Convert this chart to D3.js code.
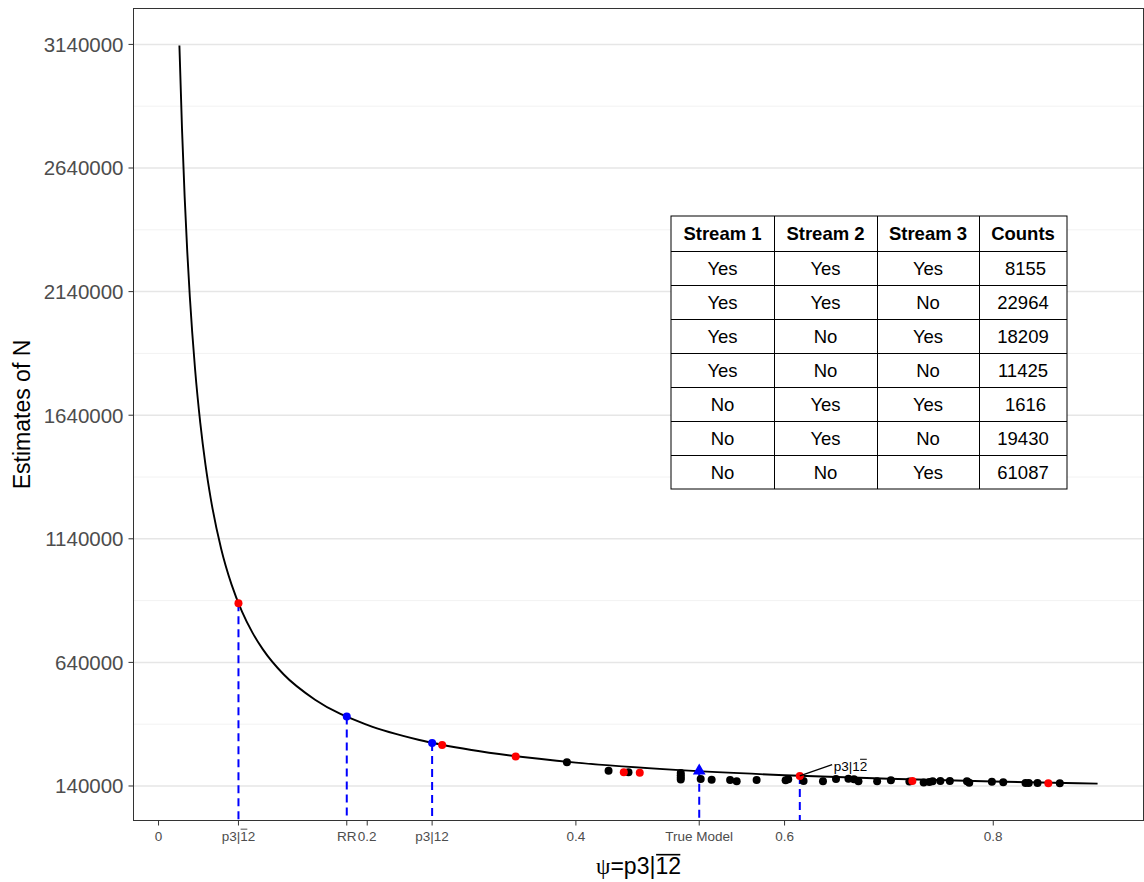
<!DOCTYPE html>
<html>
<head>
<meta charset="utf-8">
<script src="https://cdn.jsdelivr.net/npm/d3@7"></script>
<style>
  body { margin: 0; background: #ffffff; }
  text { font-family: "Liberation Sans", Arial, Helvetica, sans-serif; }
</style>
</head>
<body>
<svg id="chart" width="1144" height="882"></svg>
<script>
// Estimated population size N as a function of psi = P(stream 3 | not in streams 1, 2)
const curvePsi = [0.02, 0.0225, 0.025, 0.0275, 0.03, 0.035, 0.04, 0.045, 0.05, 0.06, 0.07, 0.08, 0.09,
                  0.1, 0.12, 0.15, 0.2, 0.25, 0.3, 0.4, 0.5, 0.6, 0.7, 0.8, 0.9];
const curveN   = [3136000, 2796800, 2525300, 2303100, 2118000, 1827100, 1609000, 1439300, 1303500,
                  1099900, 954500, 845400, 760500, 692700, 590900, 489000, 387200, 326100, 285400,
                  234500, 204000, 183600, 169100, 158200, 149700];

// Model estimates (black)
const blackPsi = [0.3914, 0.4313, 0.4504, 0.5005, 0.5005, 0.5005, 0.5005, 0.5196, 0.5301, 0.5478,
                  0.5541, 0.5732, 0.6010, 0.6035, 0.6182, 0.6368, 0.6493, 0.6612, 0.6665, 0.6708,
                  0.6887, 0.7019, 0.7196, 0.7333, 0.7388, 0.7419, 0.7493, 0.7584, 0.7748, 0.7770,
                  0.7987, 0.8096, 0.8309, 0.8340, 0.8424, 0.8638];
const blackN   = [235800, 201400, 195800, 192600, 183700, 174800, 165900, 168300, 165500, 164300,
                  159000, 164300, 163000, 167500, 160200, 159400, 168300, 169500, 167100, 159000,
                  159400, 163400, 158200, 154200, 156200, 159000, 160200, 160200, 159400, 153300,
                  157000, 155000, 152100, 152100, 152100, 151300];

// Highlighted estimates (red)
const redPsi = [0.0766, 0.2718, 0.3423, 0.4459, 0.4612, 0.6146, 0.7225, 0.8528];
const redN   = [879300, 305500, 259000, 195800, 193800, 180500, 160200, 150900];

// Reference estimates (blue)
const bluePsi = [0.1804, 0.2622];
const blueN   = [421000, 313900];
const truePsi = [0.5182];
const trueN   = [201500];

// Drop lines to the axis
const dropPsi = [0.0766, 0.1804, 0.2622, 0.5182, 0.6146];
const dropN   = [879300, 421000, 313900, 201500, 180500];

// Axis breaks and labels ([..] = overlined)
const xTickValues = [0, 0.0766, 0.1804, 0.2, 0.2622, 0.4, 0.5182, 0.6, 0.8];
const xTickLabels = ["0", "p3|[1]2", "RR", "0.2", "p3|12", "0.4", "True Model", "0.6", "0.8"];
const yTickValues = [140000, 640000, 1140000, 1640000, 2140000, 2640000, 3140000];
const yTickLabels = ["140000", "640000", "1140000", "1640000", "2140000", "2640000", "3140000"];

// Annotation
const notePsi = [0.6146, 0.6456];
const noteN   = [180500, 226500];
const noteLabel = "p3|1[2]";

// Count table
const tableHeader = ["Stream 1", "Stream 2", "Stream 3", "Counts"];
const stream1 = ["Yes", "Yes", "Yes", "Yes", "No", "No", "No"];
const stream2 = ["Yes", "Yes", "No", "No", "Yes", "Yes", "No"];
const stream3 = ["Yes", "No", "Yes", "No", "Yes", "No", "Yes"];
const counts  = [8155, 22964, 18209, 11425, 1616, 19430, 61087];

const svg = d3.select("#chart");
const panel = { left: 133.5, right: 1143.5, top: 8.5, bottom: 820.5 };

// ggplot-style 5% expansion of the data range
const allPsi = curvePsi;
const allN = curveN.concat(blackN, redN, blueN, trueN);
const [px0, px1] = d3.extent(allPsi);
const [ny0, ny1] = d3.extent(allN);
const ex = (px1 - px0) * 0.05, ey = (ny1 - ny0) * 0.05;

const x = d3.scaleLinear().domain([px0 - ex, px1 + ex]).range([panel.left, panel.right]);
const y = d3.scaleLinear().domain([ny0 - ey, ny1 + ey]).range([panel.bottom, panel.top]);

// Text with overlined runs marked by [..]
function parseRich(spec) {
  const parts = [];
  const re = /\[([^\]]*)\]|([^\[]+)/g;
  let m;
  while ((m = re.exec(spec))) parts.push(m[1] !== undefined ? { t: m[1], over: true } : { t: m[2], over: false });
  return parts;
}
function richText(parent, tx, ty, parts, size, anchor, fill) {
  const t = parent.append("text")
    .attr("x", tx).attr("y", ty)
    .attr("font-size", size)
    .attr("text-anchor", anchor)
    .attr("fill", fill);
  parts.forEach(p => {
    const s = t.append("tspan").text(p.t);
    if (p.serif) s.attr("font-family", "'Liberation Serif', 'DejaVu Serif', serif");
  });
  let idx = 0;
  parts.forEach(p => {
    if (p.over) {
      const a = t.node().getExtentOfChar(idx);
      const b = t.node().getExtentOfChar(idx + p.t.length - 1);
      parent.append("line")
        .attr("x1", a.x + size * 0.03).attr("x2", b.x + b.width - size * 0.03)
        .attr("y1", ty - size * 0.84).attr("y2", ty - size * 0.84)
        .attr("stroke", fill).attr("stroke-width", Math.max(1, size * 0.07));
    }
    idx += p.t.length;
  });
  return t;
}

// Grid (horizontal only)
const gridG = svg.append("g");
const minorY = d3.pairs(yTickValues).map(([a, b]) => (a + b) / 2);
gridG.selectAll("line.minor").data(minorY).join("line")
  .attr("x1", panel.left).attr("x2", panel.right)
  .attr("y1", d => y(d)).attr("y2", d => y(d))
  .attr("stroke", "#f2f2f2").attr("stroke-width", 1);
gridG.selectAll("line.major").data(yTickValues).join("line")
  .attr("x1", panel.left).attr("x2", panel.right)
  .attr("y1", d => y(d)).attr("y2", d => y(d))
  .attr("stroke", "#e6e6e6").attr("stroke-width", 1.5);

// Curve
svg.append("path")
  .datum(d3.zip(curvePsi, curveN))
  .attr("d", d3.line().x(d => x(d[0])).y(d => y(d[1])).curve(d3.curveMonotoneX))
  .attr("fill", "none").attr("stroke", "#000").attr("stroke-width", 1.9);

// Drop lines
svg.append("g").selectAll("line").data(d3.zip(dropPsi, dropN)).join("line")
  .attr("x1", d => x(d[0])).attr("x2", d => x(d[0]))
  .attr("y1", d => y(d[1])).attr("y2", panel.bottom)
  .attr("stroke", "#0000ff").attr("stroke-width", 2).attr("stroke-dasharray", "8,5");

// Points
const r = 4;
svg.append("g").selectAll("circle").data(d3.zip(blackPsi, blackN)).join("circle")
  .attr("cx", d => x(d[0])).attr("cy", d => y(d[1])).attr("r", r).attr("fill", "#000");
svg.append("g").selectAll("circle").data(d3.zip(redPsi, redN)).join("circle")
  .attr("cx", d => x(d[0])).attr("cy", d => y(d[1])).attr("r", r).attr("fill", "#ff0000");
svg.append("g").selectAll("circle").data(d3.zip(bluePsi, blueN)).join("circle")
  .attr("cx", d => x(d[0])).attr("cy", d => y(d[1])).attr("r", r).attr("fill", "#0000ff");
svg.append("g").selectAll("path").data(d3.zip(truePsi, trueN)).join("path")
  .attr("transform", d => `translate(${x(d[0])},${y(d[1])})`)
  .attr("d", d3.symbol(d3.symbolTriangle, 70))
  .attr("fill", "#0000ff");

// Annotation
svg.append("line")
  .attr("x1", x(notePsi[0])).attr("y1", y(noteN[0]))
  .attr("x2", x(notePsi[1])).attr("y2", y(noteN[1]))
  .attr("stroke", "#000").attr("stroke-width", 1.3);
richText(svg, x(notePsi[1]) + 1.5, y(noteN[1]) + 6, parseRich(noteLabel), 13.5, "start", "#000");

// Count table
const colEdges = [671, 774, 877, 979, 1067];
const headH = 35, rowH = 34, tableTop = 216;
const tg = svg.append("g");
const nRows = counts.length;
const tableBottom = tableTop + headH + nRows * rowH;
tg.append("rect")
  .attr("x", colEdges[0]).attr("y", tableTop)
  .attr("width", colEdges[4] - colEdges[0]).attr("height", tableBottom - tableTop)
  .attr("fill", "#fff").attr("stroke", "#000").attr("stroke-width", 1);
const rowEdges = [tableTop, tableTop + headH].concat(d3.range(1, nRows + 1).map(i => tableTop + headH + i * rowH));
rowEdges.slice(1, -1).forEach(ry => tg.append("line")
  .attr("x1", colEdges[0]).attr("x2", colEdges[4]).attr("y1", ry + 0.5).attr("y2", ry + 0.5)
  .attr("stroke", "#000").attr("stroke-width", 1));
colEdges.slice(1, -1).forEach(cx => tg.append("line")
  .attr("x1", cx + 0.5).attr("x2", cx + 0.5).attr("y1", tableTop).attr("y2", tableBottom)
  .attr("stroke", "#000").attr("stroke-width", 1));
const colMid = d3.pairs(colEdges).map(([a, b]) => (a + b) / 2);
tableHeader.forEach((h, j) => tg.append("text")
  .attr("x", colMid[j]).attr("y", tableTop + headH / 2 + 6.5)
  .attr("text-anchor", "middle").attr("font-size", 18.5).attr("font-weight", "bold")
  .text(h));
const tableRows = d3.range(nRows).map(i => [stream1[i], stream2[i], stream3[i], String(counts[i]).padStart(5, " ")]);
tableRows.forEach((row, i) => row.forEach((cell, j) => tg.append("text")
  .attr("x", colMid[j]).attr("y", tableTop + headH + i * rowH + rowH / 2 + 6.5)
  .attr("text-anchor", "middle").attr("font-size", 18.5)
  .style("white-space", "pre")
  .text(cell)));

// Panel border
svg.append("rect")
  .attr("x", panel.left).attr("y", panel.top)
  .attr("width", panel.right - panel.left).attr("height", panel.bottom - panel.top)
  .attr("fill", "none").attr("stroke", "#333333").attr("stroke-width", 1);

// Y axis
const yAxis = svg.append("g");
yTickValues.forEach((v, i) => {
  yAxis.append("line")
    .attr("x1", panel.left - 5).attr("x2", panel.left)
    .attr("y1", y(v)).attr("y2", y(v))
    .attr("stroke", "#333333").attr("stroke-width", 1);
  yAxis.append("text")
    .attr("x", panel.left - 10).attr("y", y(v) + 7.3)
    .attr("text-anchor", "end").attr("font-size", 20.5).attr("fill", "#4d4d4d")
    .text(yTickLabels[i]);
});

// X axis
const xAxis = svg.append("g");
xTickValues.forEach((v, i) => {
  xAxis.append("line")
    .attr("x1", x(v)).attr("x2", x(v))
    .attr("y1", panel.bottom).attr("y2", panel.bottom + 5)
    .attr("stroke", "#333333").attr("stroke-width", 1);
  richText(xAxis, x(v), 840.5, parseRich(xTickLabels[i]), 13.5, "middle", "#4d4d4d");
});

// Axis titles
const xTitleParts = [{ t: "ψ", over: false, serif: true }].concat(parseRich("=p3|[12]"));
richText(svg, (panel.left + panel.right) / 2, 874, xTitleParts, 23, "middle", "#000");
svg.append("text")
  .attr("transform", `translate(30,${(panel.top + panel.bottom) / 2}) rotate(-90)`)
  .attr("text-anchor", "middle").attr("font-size", 23).attr("fill", "#000")
  .text("Estimates of N");
</script>
</body>
</html>
